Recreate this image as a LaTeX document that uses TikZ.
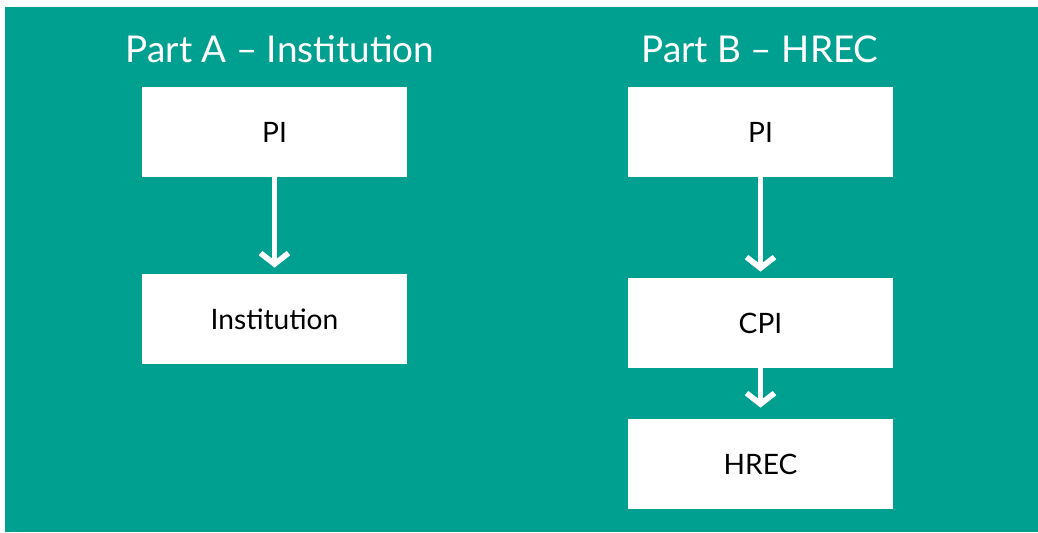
\documentclass[tikz,border=0pt]{standalone}
\usepackage{fontspec}
\setmainfont{Lato}
\usetikzlibrary{arrows.meta,positioning}

\definecolor{hrecteal}{RGB}{0,160,145}

\tikzset{
  box/.style={fill=white,text=black,minimum width=5.3cm,minimum height=1.8cm,
    font=\fontsize{16}{19}\selectfont},
  parttitle/.style={text=white,anchor=base,font=\fontsize{21}{24}\selectfont},
  pfeil/.style={draw=white,line width=2.3pt,shorten >=0.12cm,
    -{Straight Barb[length=0.22cm,width=0.56cm,line width=3.2pt]}}
}

\begin{document}
\begin{tikzpicture}
   \useasboundingbox (0,0) rectangle (20.76,10.64);
   %% Hintergrund
   \fill[hrecteal] (0.1,0) rectangle (20.76,10.5);

   %% Teil A
   \node[parttitle] (titleA) at (5.6,9.4) {Part A – Institution};
   \node[box] (piA) at (5.49,8.0) {PI};
   \node[box] (inst) at (5.49,4.26) {Institution};
   \draw[pfeil] (piA) -- (inst);

   %% Teil B
   \node[parttitle] (titleB) at (15.2,9.4) {Part B – HREC};
   \node[box] (piB) at (15.21,8.0) {PI};
   \node[box] (cpi) at (15.21,4.18) {CPI};
   \node[box] (hrec) at (15.21,1.36) {HREC};
   \draw[pfeil] (piB) -- (cpi);
   \draw[pfeil,shorten >=0.22cm] (cpi) -- (hrec);
\end{tikzpicture}
\end{document}
